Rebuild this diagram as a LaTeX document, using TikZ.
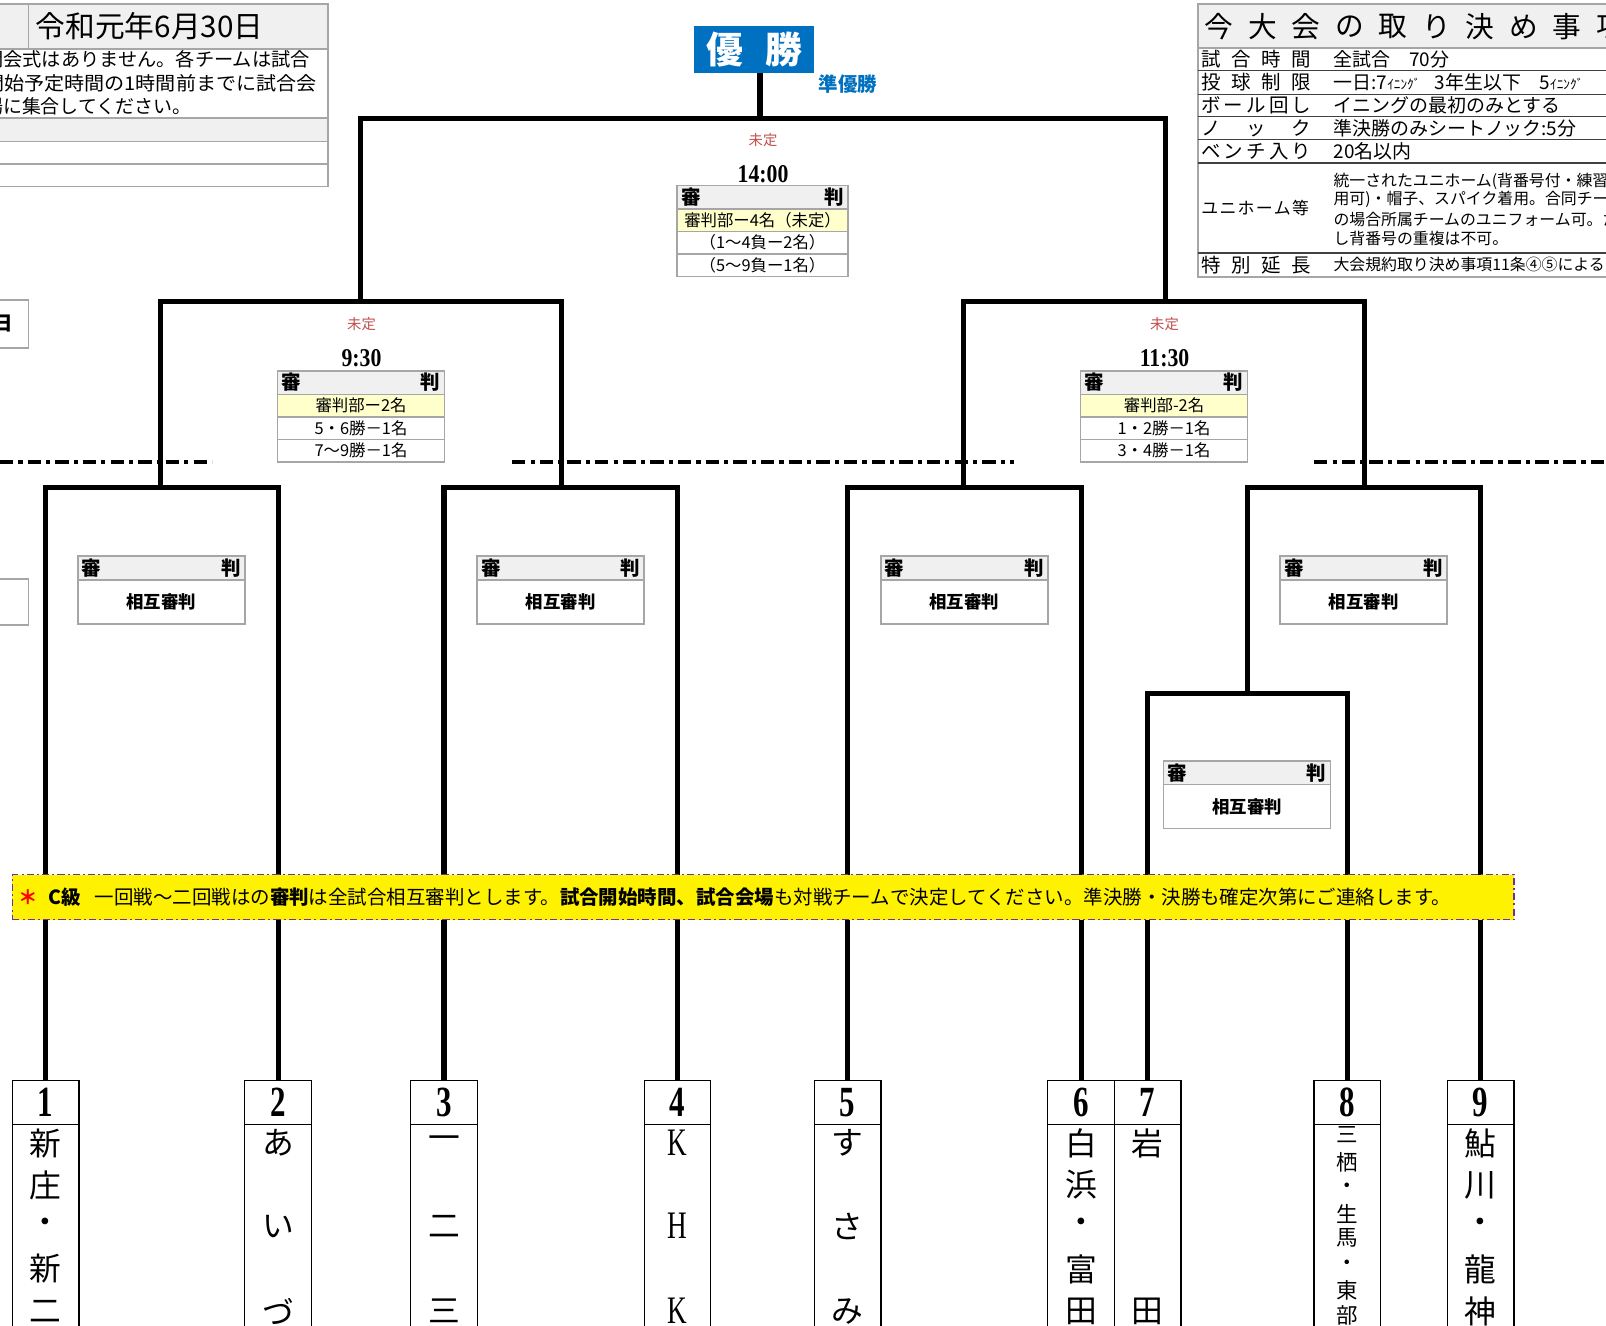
\documentclass[tikz,border=0pt]{standalone}
\usepackage{fontspec}
\usepackage{graphicx}
\setmainfont{Noto Sans CJK JP}
\newfontfamily\sernum{Liberation Serif}
\definecolor{tgray}{HTML}{A6A6A6}
\definecolor{hgray}{HTML}{F0F0F0}
\definecolor{ylw}{HTML}{FFFFCC}
\definecolor{blu}{HTML}{0070C0}
\definecolor{mred}{HTML}{C0504D}
\definecolor{purp}{HTML}{7030A0}
\definecolor{dline}{HTML}{404040}
\newcommand\fsz[1]{\fontsize{#1pt}{#1pt}\selectfont}
\newcommand\kk[1]{\scalebox{0.7}[1]{\sernum #1}}
\newcommand\mycell[7]{\node[cellbox, fill=#6, minimum width=#4pt, minimum height=#5pt] (#1) at (#2,#3) {#7};}
\newcommand\myhdr[4]{\node[cellbox, fill=hgray, minimum width=#4pt, minimum height=23pt] (#1) at (#2,#3) {\fsz{19}\bfseries\makebox[\dimexpr#4pt-8pt\relax]{審\hfill 判}};}
\newcommand\vname[4]{\foreach \yy/\ch [count=\k] in {#4} {\node[txt] (#1-\k) at (#2,\yy) {\fsz{#3}\ch};}}
\newcommand\team[3]{%
  \node[teambox, minimum height=43pt] (t#1) at (#2,1055) {\scalebox{0.72}[1]{\fsz{42}\sernum\bfseries #3}};
  \node[teambox, minimum height=240pt] (nb#1) at (#2,1098) {};}
\begin{document}
\begin{tikzpicture}[x=1pt,y=-1pt,
  br/.style={line width=5pt, line join=miter},
  dd/.style={line width=4pt, dash pattern=on 13pt off 5pt on 4pt off 5pt},
  cellbox/.style={draw=tgray, line width=1.6pt, rectangle, inner sep=0pt, outer sep=0pt, anchor=north west},
  teambox/.style={draw=black, line width=1.3pt, rectangle, inner sep=0pt, outer sep=0pt, minimum width=65pt, anchor=north},
  txt/.style={inner sep=0pt, outer sep=0pt},
  red/.style={txt, text=mred},
]
\useasboundingbox (0,0) rectangle (1568,1294);
\clip (0,0) rectangle (1568,1294);
\fill[white] (0,0) rectangle (1568,1294);

% ---------- top-left table ----------
\fill[hgray] (-5,4) rectangle (320,48);
\fill[hgray] (-5,115) rectangle (320,138);
\draw[tgray, line width=1.6pt] (-5,4) rectangle (320,182);
\foreach \yy in {48,115,138,160} \draw[tgray, line width=1.6pt] (-5,\yy) -- (320,\yy);
\draw[tgray, line width=1.6pt] (28,4) -- (28,48);
\node[txt, anchor=west] (date) at (35,26) {\fsz{29}令和元年6月30日};
\node[txt, anchor=west] (info1) at (-15.5,58) {\scalebox{1.015}[1]{\fsz{18.5}開会式はありません。各チームは試合}};
\node[txt, anchor=west] (info2) at (-15.5,81) {\scalebox{1.06}[1]{\fsz{18.5}開始予定時間の1時間前までに試合会}};
\node[txt, anchor=west] (info3) at (-15.5,104) {\fsz{18.5}場に集合してください。};
\draw[tgray, line width=1.6pt] (-5,293) rectangle (28,340);
\node[txt] (dayc) at (3,316) {\fsz{19}\bfseries 日};
\draw[tgray, line width=1.6pt] (-5,565) rectangle (28,610);

% ---------- top-right table ----------
\fill[hgray] (1170,4) rectangle (1590,47);
\draw[tgray, line width=2pt] (1170,4) rectangle (1590,270);
\draw[tgray, line width=1.6pt] (1170,47) -- (1590,47);
\foreach \yy in {69,92,114,136,159,247} \draw[dline, line width=1.3pt] (1170,\yy) -- (1590,\yy);
\foreach \c [count=\i from 0] in {今,大,会,の,取,り,決,め,事,項}
  {\node[txt] (hd\i) at ({1190+42.5*\i},26) {\fsz{28}\c};}
\node[txt, anchor=west] (l1) at (1173,58) {\fsz{19}\makebox[107pt]{試\hfill 合\hfill 時\hfill 間}};
\node[txt, anchor=west] (l2) at (1173,80.5) {\fsz{19}\makebox[107pt]{投\hfill 球\hfill 制\hfill 限}};
\node[txt, anchor=west] (l3) at (1173,103) {\fsz{19}\makebox[107pt]{ボ\hfill ー\hfill ル\hfill 回\hfill し}};
\node[txt, anchor=west] (l4) at (1173,125) {\fsz{19}\makebox[107pt]{ノ\hfill ッ\hfill ク}};
\node[txt, anchor=west] (l5) at (1173,147.5) {\fsz{19}\makebox[107pt]{ベ\hfill ン\hfill チ\hfill 入\hfill り}};
\node[txt, anchor=west] (l6) at (1173,203) {\fsz{16.5}\makebox[105pt]{ユ\hfill ニ\hfill ホ\hfill ー\hfill ム\hfill 等}};
\node[txt, anchor=west] (l7) at (1173,258.5) {\fsz{19}\makebox[107pt]{特\hfill 別\hfill 延\hfill 長}};
\node[txt, anchor=west] (v1) at (1302,58) {\fsz{18.5}全試合　70分};
\node[txt, anchor=west] (v2) at (1302,80.5) {\fsz{18.5}一日:7{\fsz{13}ｲﾆﾝｸﾞ}\hspace{14pt}3年生以下\hspace{18pt}5{\fsz{13}ｲﾆﾝｸﾞ}};
\node[txt, anchor=west] (v3) at (1302,103) {\fsz{18.5}イニングの最初のみとする};
\node[txt, anchor=west] (v4) at (1302,125) {\fsz{18.5}準決勝のみシートノック:5分};
\node[txt, anchor=west] (v5) at (1302,147.5) {\fsz{18.5}20名以内};
\node[txt, anchor=west] (v6a) at (1302,177) {\fsz{15.5}統一されたユニホーム(背番号付・練習};
\node[txt, anchor=west] (v6b) at (1302,195) {\fsz{15.5}用可)・帽子、スパイク着用。合同チーム};
\node[txt, anchor=west] (v6c) at (1302,214) {\fsz{15.5}の場合所属チームのユニフォーム可。ただ};
\node[txt, anchor=west] (v6d) at (1302,233) {\fsz{15.5}し背番号の重複は不可。};
\node[txt, anchor=west] (v7) at (1302,258.5) {\fsz{15.5}大会規約取り決め事項11条④⑤による};

% ---------- champion ----------
\node[fill=blu, minimum width=117pt, minimum height=46pt, inner sep=0pt, outer sep=0pt] (champ) at (736.5,48)
  {\fsz{36}\bfseries\color{white}優\hspace{22pt}勝};
\node[txt, text=blu] (runner) at (828,82) {\fsz{19}\bfseries 準優勝};

% ---------- bracket coordinates ----------
\coordinate (fT) at (742,116);
\coordinate (sL) at (352,294);
\coordinate (sR) at (1138,294);
\coordinate (mA) at (157,476);
\coordinate (mB) at (548,476);
\coordinate (mC) at (941,476);
\coordinate (mD) at (1332,476);
\coordinate (mE) at (1218,677);

% ---------- teams ----------
\team{1}{44.5}{1}
\team{2}{271.5}{2}
\team{3}{433.5}{3}
\team{4}{661.5}{4}
\team{5}{827.5}{5}
\team{6}{1055.5}{6}
\team{7}{1120.5}{7}
\team{8}{1315.5}{8}
\team{9}{1445.5}{9}
\vname{n1}{44.5}{31}{1116/新,1157/庄,1197/・,1239/新,1280/二}
\vname{n2}{271.5}{31}{1116/あ,1197/い,1280/づ}
\vname{n3}{433.5}{31}{1116/一,1197/二,1280/三}
\vname{n4}{661.5}{38}{1116/\kk{K},1197/\kk{H},1280/\kk{K}}
\vname{n5}{827.5}{31}{1116/す,1197/さ,1280/み}
\vname{n6}{1055.5}{31}{1116/白,1157/浜,1197/・,1239/富,1280/田}
\vname{n7}{1120.5}{31}{1116/岩,1280/田}
\vname{n8}{1315.5}{21}{1108/三,1135/栖,1160/・,1185/生,1209/馬,1235/・,1260/東,1284/部}
\vname{n9}{1445.5}{31}{1116/鮎,1157/川,1197/・,1239/龍,1280/神}

% ---------- bracket lines ----------
\draw[br] (fT |- champ.south) -- (fT);
\draw[br] (sL) |- (fT) -| (sR);
\draw[br] (mA) |- (sL) -| (mB);
\draw[br] (mC) |- (sR) -| (mD);
\draw[br] (t1.north) |- (mA) -| (t2.north);
\draw[br] (t3.north) |- (mB) -| (t4.north);
\draw[br] (t5.north) |- (mC) -| (t6.north);
\draw[br] (t7.north) |- (mE) -| (t8.north);
\draw[br] (mE) |- (mD) -| (t9.north);

% dash-dot separators
\draw[dd] (0,451) -- (207,451);
\draw[dd] (500,451) -- (990,451);
\draw[dd] (1283,451) -- (1580,451);

% ---------- match info ----------
\node[red] (u0) at (745,137) {\fsz{14}未定};
\node[red] (u1) at (353,316) {\fsz{14}未定};
\node[red] (u2) at (1137,316) {\fsz{14}未定};
\node[txt] (tm0) at (745,170) {\scalebox{0.85}[1]{\fsz{25}\sernum\bfseries 14:00}};
\node[txt] (tm1) at (353,350) {\scalebox{0.85}[1]{\fsz{25}\sernum\bfseries 9:30}};
\node[txt] (tm2) at (1137,350) {\scalebox{0.85}[1]{\fsz{25}\sernum\bfseries 11:30}};

\myhdr{r0h}{661}{181}{167}
\mycell{r0a}{661}{204}{167}{22}{ylw}{\fsz{16}審判部ー4名（未定）}
\mycell{r0b}{661}{226}{167}{22}{white}{\fsz{16}（1～4負ー2名）}
\mycell{r0c}{661}{248}{167}{22}{white}{\fsz{16}（5～9負ー1名）}

\myhdr{r1h}{271}{362}{163}
\mycell{r1a}{271}{385}{163}{22}{ylw}{\fsz{16}審判部ー2名}
\mycell{r1b}{271}{407}{163}{22}{white}{\fsz{16}5・6勝－1名}
\mycell{r1c}{271}{429}{163}{22}{white}{\fsz{16}7～9勝－1名}

\myhdr{r2h}{1055}{362}{163}
\mycell{r2a}{1055}{385}{163}{22}{ylw}{\fsz{16}審判部-2名}
\mycell{r2b}{1055}{407}{163}{22}{white}{\fsz{16}1・2勝－1名}
\mycell{r2c}{1055}{429}{163}{22}{white}{\fsz{16}3・4勝－1名}

\myhdr{rAh}{76}{543}{163}
\mycell{rAb}{76}{566}{163}{43}{white}{\fsz{17}\bfseries 相互審判}
\myhdr{rBh}{466}{543}{163}
\mycell{rBb}{466}{566}{163}{43}{white}{\fsz{17}\bfseries 相互審判}
\myhdr{rCh}{860}{543}{163}
\mycell{rCb}{860}{566}{163}{43}{white}{\fsz{17}\bfseries 相互審判}
\myhdr{rDh}{1250}{543}{163}
\mycell{rDb}{1250}{566}{163}{43}{white}{\fsz{17}\bfseries 相互審判}
\myhdr{rEh}{1136}{743}{163}
\mycell{rEb}{1136}{766}{163}{43}{white}{\fsz{17}\bfseries 相互審判}

% ---------- banner ----------
\node[draw=purp, fill=yellow, line width=1.3pt, dash pattern=on 7pt off 3pt on 2pt off 3pt,
      minimum width=1466pt, minimum height=44pt, inner sep=0pt, outer sep=0pt, anchor=north west] (banner) at (12,854) {};
\node[txt, anchor=west] (note) at (18,876) {\fsz{19}\textcolor{red}{\bfseries ＊}\hspace{10pt}{\bfseries C級}\hspace{14pt}一回戦～二回戦はの{\bfseries 審判}は全試合相互審判とします。{\bfseries 試合開始時間、試合会場}も対戦チームで決定してください。準決勝・決勝も確定次第にご連絡します。};
\end{tikzpicture}
\end{document}
